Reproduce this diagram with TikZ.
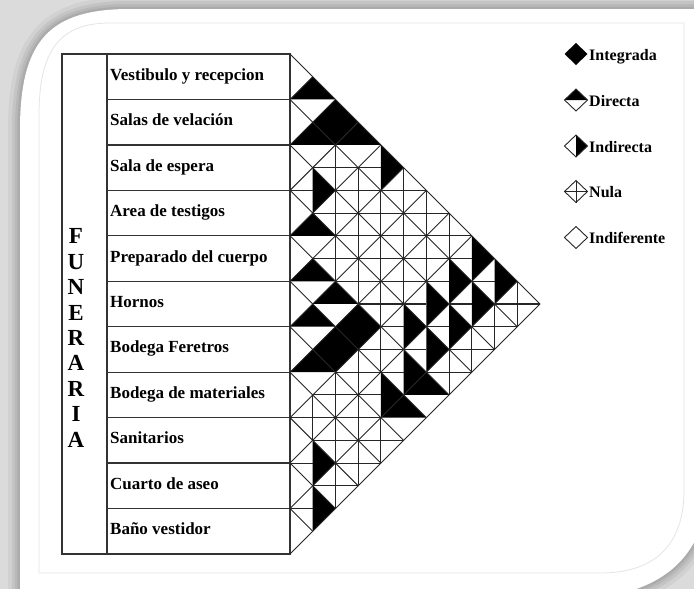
\documentclass[tikz,border=0pt]{standalone}
\usepackage{fontspec}
\setmainfont{Liberation Serif}
\tikzset{
  cellline/.style={black!85, line width=0.9pt},
  crossline/.style={black!85, line width=1.1pt},
  tableline/.style={black!80, line width=1.2pt},
  rowlabel/.style={anchor=base west, inner sep=0pt, font=\fontsize{17}{18}\selectfont\bfseries},
  keylabel/.style={anchor=base west, inner sep=0pt, font=\fontsize{16}{18}\selectfont\bfseries},
}
\def\panelpath{(20,600) -- (20,130) .. controls (20,40) and (50,9) .. (130,9) -- (710,9)
  -- (710,470) .. controls (710,560) and (660,600) .. (560,600) -- cycle}

\begin{document}
\begin{tikzpicture}[x=1pt, y=-1pt]
  \useasboundingbox (0,0) rectangle (694,589);
  % frame
  \fill[black!14] (0,0) rectangle (694,589);
  \foreach \w/\c in {24/18, 16/23, 10/28, 5/33}
    \draw[black!\c, line width=\w pt] \panelpath;
  \fill[white] \panelpath;
  \draw[black!10, line width=0.8pt] (39,573) -- (39,115) .. controls (39,50) and (60,23) .. (110,23)
    -- (684,23) -- (684,490) .. controls (684,545) and (655,573) .. (600,573) -- cycle;
  % table
  \draw[tableline] (62,54) rectangle (290,554);
  \draw[tableline] (107,54) -- (107,554);
  \foreach \k in {1,...,10}
    \draw[tableline] (107,{54+\k*45.4545}) -- (290,{54+\k*45.4545});
  \node[align=center, inner sep=0pt, font=\fontsize{23}{25.4}\selectfont\bfseries] (funeraria) at (76,338)
    {F\\U\\N\\E\\R\\A\\R\\I\\A};
  \foreach \t [count=\i] in {Vestibulo y recepcion, Salas de velación, Sala de espera,
      Area de testigos, Preparado del cuerpo, Hornos, Bodega Feretros,
      Bodega de materiales, Sanitarios, Cuarto de aseo, Baño vestidor}
    \node[rowlabel] (r\i) at (110,{54+(\i-0.5)*45.4545+3.5}) {\t};
  % matrix
  \begin{scope}[shift={(290,54)}, x=22.727pt, y=-22.727pt]
    % integrada
    \foreach \a/\b in {2/3, 3/12, 2/13}
      \fill ({\a-1},\b) -- (\a,{\b-1}) -- ({\a+1},\b) -- (\a,{\b+1}) -- cycle;
    % directa
    \foreach \a/\b in {1/2, 1/4, 3/4, 1/8, 1/10, 2/11, 1/12, 1/14, 5/16, 6/15}
      \fill ({\a-1},\b) -- (\a,{\b-1}) -- ({\a+1},\b) -- cycle;
    % indirecta
    \foreach \a/\b in {1/6, 4/5, 1/18, 1/20, 4/15, 5/12, 5/14, 6/11, 6/13, 7/10, 7/12, 8/9, 8/11, 9/10} {
      \fill (\a,{\b-1}) -- ({\a+1},\b) -- (\a,{\b+1}) -- cycle;
      \draw[crossline] ({\a-1},\b) -- (\a,\b);
    }
    % diagonals
    \foreach \k in {0,...,10}
      \draw[cellline] (0,{2*\k}) -- ({11-\k},{11+\k});
    \foreach \m in {1,...,11}
      \draw[cellline] (0,{2*\m}) -- (\m,\m);
    % nula
    \foreach \a/\b in {1/16, 2/5, 2/7, 2/9, 2/15, 2/17, 2/19, 3/6, 3/8, 3/10, 3/14, 3/16, 3/18,
        4/7, 4/9, 4/11, 4/13, 4/17, 5/6, 5/8, 5/10, 6/7, 6/9, 7/8, 7/14, 8/13, 9/12, 10/11} {
      \draw[crossline] (\a,{\b-1}) -- (\a,{\b+1});
      \draw[crossline] ({\a-1},\b) -- ({\a+1},\b);
    }
  \end{scope}
  % legend
  \begin{scope}[shift={(576,54)}]
    \fill (-11.5,0) -- (0,-11) -- (11.5,0) -- (0,11) -- cycle;
    \node[keylabel] (integrada) at (13,6) {Integrada};
  \end{scope}
  \begin{scope}[shift={(576,100)}]
    \fill (-11.5,0) -- (0,-11) -- (11.5,0) -- cycle;
    \draw[cellline] (-11.5,0) -- (0,-11) -- (11.5,0) -- (0,11) -- cycle;
    \node[keylabel] (directa) at (13,6) {Directa};
  \end{scope}
  \begin{scope}[shift={(576,146)}]
    \fill (0,-11) -- (11.5,0) -- (0,11) -- cycle;
    \draw[cellline] (-11.5,0) -- (0,-11) -- (11.5,0) -- (0,11) -- cycle;
    \node[keylabel] (indirecta) at (13,6) {Indirecta};
  \end{scope}
  \begin{scope}[shift={(576,191.5)}]
    \draw[cellline] (-11.5,0) -- (0,-11) -- (11.5,0) -- (0,11) -- cycle;
    \draw[cellline] (-11.5,0) -- (11.5,0) (0,-11) -- (0,11);
    \node[keylabel] (nula) at (13,6) {Nula};
  \end{scope}
  \begin{scope}[shift={(576,237.5)}]
    \draw[cellline] (-11.5,0) -- (0,-11) -- (11.5,0) -- (0,11) -- cycle;
    \node[keylabel] (indiferente) at (13,6) {Indiferente};
  \end{scope}
\end{tikzpicture}
\end{document}
